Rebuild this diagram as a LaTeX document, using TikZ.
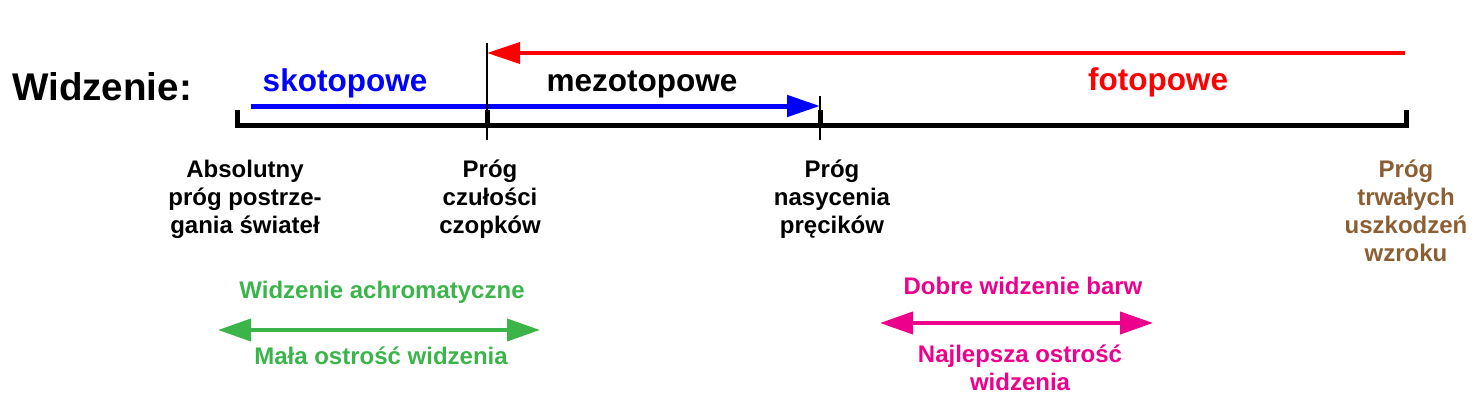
\documentclass[tikz,border=0pt]{standalone}
\usepackage{fontspec}
\setmainfont{Liberation Sans}
\definecolor{skotoblue}{HTML}{0000FF}
\definecolor{fotored}{HTML}{FF0000}
\definecolor{achrogreen}{HTML}{3BB54A}
\definecolor{barwpink}{HTML}{EC008C}
\definecolor{uszkbrown}{HTML}{8C5E34}
\usetikzlibrary{
  positioning,
  arrows.meta
}

\begin{document}
\begin{tikzpicture}[
  x=1pt, y=-1pt,
  every node/.style={font=\bfseries\fontsize{24}{28}\selectfont, inner sep=0pt},
  prog/.style={align=center, anchor=base},
  zakres/.style={font=\bfseries\fontsize{31.5}{36}\selectfont, anchor=base},
  os/.style={line width=5pt, line cap=rect},
  kreska/.style={line width=1.6pt},
  strzalka/.style={line width=4pt, -{Triangle[length=33pt, width=21pt]}},
  dwustronna/.style={line width=4pt, {Triangle[length=33pt, width=22pt]}-{Triangle[length=33pt, width=22pt]}}
]
\useasboundingbox (0,0) rectangle (1479,404);

% Thresholds on the axis
\coordinate (t0) at (237,125);
\coordinate (t1) at (487,125);
\coordinate (t2) at (820,125);
\coordinate (t3) at (1406,125);

% Title and ranges
\node[anchor=base west, font=\bfseries\fontsize{38.6}{44}\selectfont] (tytul) at (12,100) {Widzenie:};
\node[zakres, skotoblue] (skoto) at (345,92) {skotopowe};
\node[zakres] (mezo) at (642,91) {mezotopowe};
\node[zakres, fotored] (foto) at (1158,90) {fotopowe};

% Range arrows
\coordinate (fotostart) at (1405,53);
\coordinate (skotostart) at (251,106);
\draw[strzalka, fotored] (fotostart) -- (fotostart -| t1);
\draw[strzalka, skotoblue, line width=5pt] (skotostart) -- (skotostart -| t2);
\draw[kreska] (t1) ++(0,-82) -- ++(0,97);
\draw[kreska] (t2) ++(0,-29) -- ++(0,44);

% Axis
\draw[os] ([yshift=13]t0) -- (t0) -- (t3) -- ([yshift=13]t3);
\draw[os] (t1) -- ([yshift=13]t1);
\draw[os] (t2) -- ([yshift=13]t2);

% Threshold labels (base = last line)
\node[prog] (abs) at (245,233) {Absolutny\\próg postrze-\\gania świateł};
\node[prog] (czul) at (490,233) {Próg\\czułości\\czopków};
\node[prog] (nasyc) at (832,233) {Próg\\nasycenia\\pręcików};
\node[prog, uszkbrown] (uszk) at (1406,261) {Próg\\trwałych\\uszkodzeń\\wzroku};

% Vision quality
\node[anchor=base, achrogreen] (achro) at (382,298) {Widzenie achromatyczne};
\node[anchor=base, achrogreen] (mala) at (381,364) {Mała ostrość widzenia};
\coordinate (gl) at (218,330);
\coordinate (gp) at (540,330);
\draw[dwustronna, achrogreen] (gl) -- (gp);

\node[anchor=base, barwpink] (barw) at (1023,294) {Dobre widzenie barw};
\node[prog, barwpink] (ostr) at (1020,390) {Najlepsza ostrość\\widzenia};
\coordinate (pl) at (880,323);
\coordinate (pp) at (1153,323);
\draw[dwustronna, barwpink] (pl) -- (pp);

\end{tikzpicture}
\end{document}
